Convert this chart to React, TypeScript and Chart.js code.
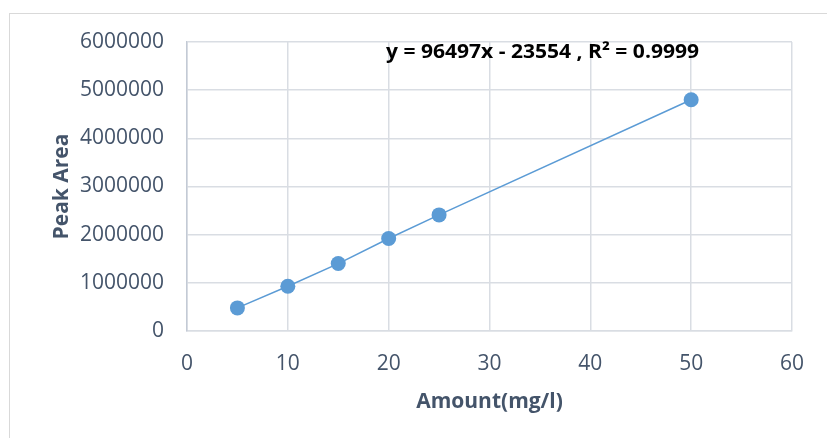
import React, { useEffect, useRef } from "react";
import { Chart, registerables } from "chart.js";

Chart.register(...registerables);

const amounts = [5, 10, 15, 20, 25, 50];
const peakAreas = [480000, 930000, 1400000, 1920000, 2410000, 4800000];
const xTickValues = [0, 10, 20, 30, 40, 50, 60];
const yTickValues = [0, 1000000, 2000000, 3000000, 4000000, 5000000, 6000000];
const equationLabel = "y = 96497x - 23554 , R² = 0.9999";
const xTitle = "Amount(mg/l)";
const yTitle = "Peak Area";

const FONT = "'Open Sans', 'DejaVu Sans', sans-serif";
const TEXT_COLOR = "#44546A";
const GRID_COLOR = "#D9DDE3";
const SERIES_COLOR = "#5B9BD5";

const textPlugin = {
  id: "textPlugin",
  beforeDraw(chart: any) {
    const ctx = chart.ctx;
    ctx.save();
    ctx.fillStyle = "#ffffff";
    ctx.fillRect(0, 0, chart.width, chart.height);
    ctx.strokeStyle = "#D9D9D9";
    ctx.lineWidth = 1;
    ctx.strokeRect(9.5, 13.5, 2000, 2000);
    ctx.restore();
  },
  afterDraw(chart: any) {
    const ctx = chart.ctx;
    const area = chart.chartArea;
    ctx.save();
    ctx.fillStyle = TEXT_COLOR;
    ctx.font = `bold 21px ${FONT}`;
    ctx.textAlign = "center";
    ctx.textBaseline = "alphabetic";
    ctx.fillText(xTitle, (area.left + area.right) / 2, 408);
    ctx.save();
    ctx.translate(68, (area.top + area.bottom) / 2);
    ctx.rotate(-Math.PI / 2);
    ctx.fillText(yTitle, 0, 0);
    ctx.restore();
    ctx.fillStyle = "#000000";
    ctx.font = `bold 20px ${FONT}`;
    ctx.textAlign = "left";
    const w = ctx.measureText(equationLabel).width;
    const target = 313;
    ctx.translate(386, 58);
    ctx.scale(target / w, 1);
    ctx.fillText(equationLabel, 0, 0);
    ctx.restore();
  },
};

export default function App() {
  const canvasRef = useRef<HTMLCanvasElement | null>(null);

  useEffect(() => {
    const canvas = canvasRef.current;
    if (!canvas) return;
    const chart = new Chart(canvas, {
      type: "scatter",
      data: {
        datasets: [
          {
            data: amounts.map((x, i) => ({ x, y: peakAreas[i] })),
            showLine: true,
            borderColor: SERIES_COLOR,
            borderWidth: 1.5,
            backgroundColor: SERIES_COLOR,
            pointBackgroundColor: SERIES_COLOR,
            pointBorderColor: SERIES_COLOR,
            pointRadius: 7.5,
            pointBorderWidth: 0,
            clip: false as any,
          },
        ],
      },
      options: {
        animation: false,
        responsive: false,
        events: [],
        layout: { padding: { top: 42, right: 35, left: 0, bottom: 0 } },
        plugins: {
          legend: { display: false },
          tooltip: { enabled: false },
        },
        scales: {
          x: {
            type: "linear",
            min: 0,
            max: 60,
            afterFit(scale: any) {
              scale.height = 107;
            },
            afterBuildTicks(scale: any) {
              scale.ticks = xTickValues.map((v) => ({ value: v }));
            },
            ticks: {
              color: TEXT_COLOR,
              font: { family: FONT, size: 21 },
              padding: 20,
              maxRotation: 0,
              callback: (v: any) => String(v),
            },
            grid: { color: GRID_COLOR, lineWidth: 1.5, drawTicks: false },
            border: { color: GRID_COLOR, width: 1.5 },
          },
          y: {
            type: "linear",
            min: 0,
            max: 6000000,
            afterFit(scale: any) {
              scale.width = 187;
            },
            afterBuildTicks(scale: any) {
              scale.ticks = yTickValues.map((v) => ({ value: v }));
            },
            ticks: {
              color: TEXT_COLOR,
              font: { family: FONT, size: 21 },
              padding: 23,
              callback: (v: any) => String(v),
            },
            grid: { color: GRID_COLOR, lineWidth: 1.5, drawTicks: false },
            border: { color: "#C3CAD5", width: 1.5 },
          },
        },
      },
      plugins: [textPlugin],
    });
    return () => chart.destroy();
  }, []);

  return (
    <div style={{ position: "absolute", left: 0, top: 0, width: 827, height: 438 }}>
      <canvas ref={canvasRef} width={827} height={438} style={{ width: 827, height: 438, display: "block" }} />
    </div>
  );
}
